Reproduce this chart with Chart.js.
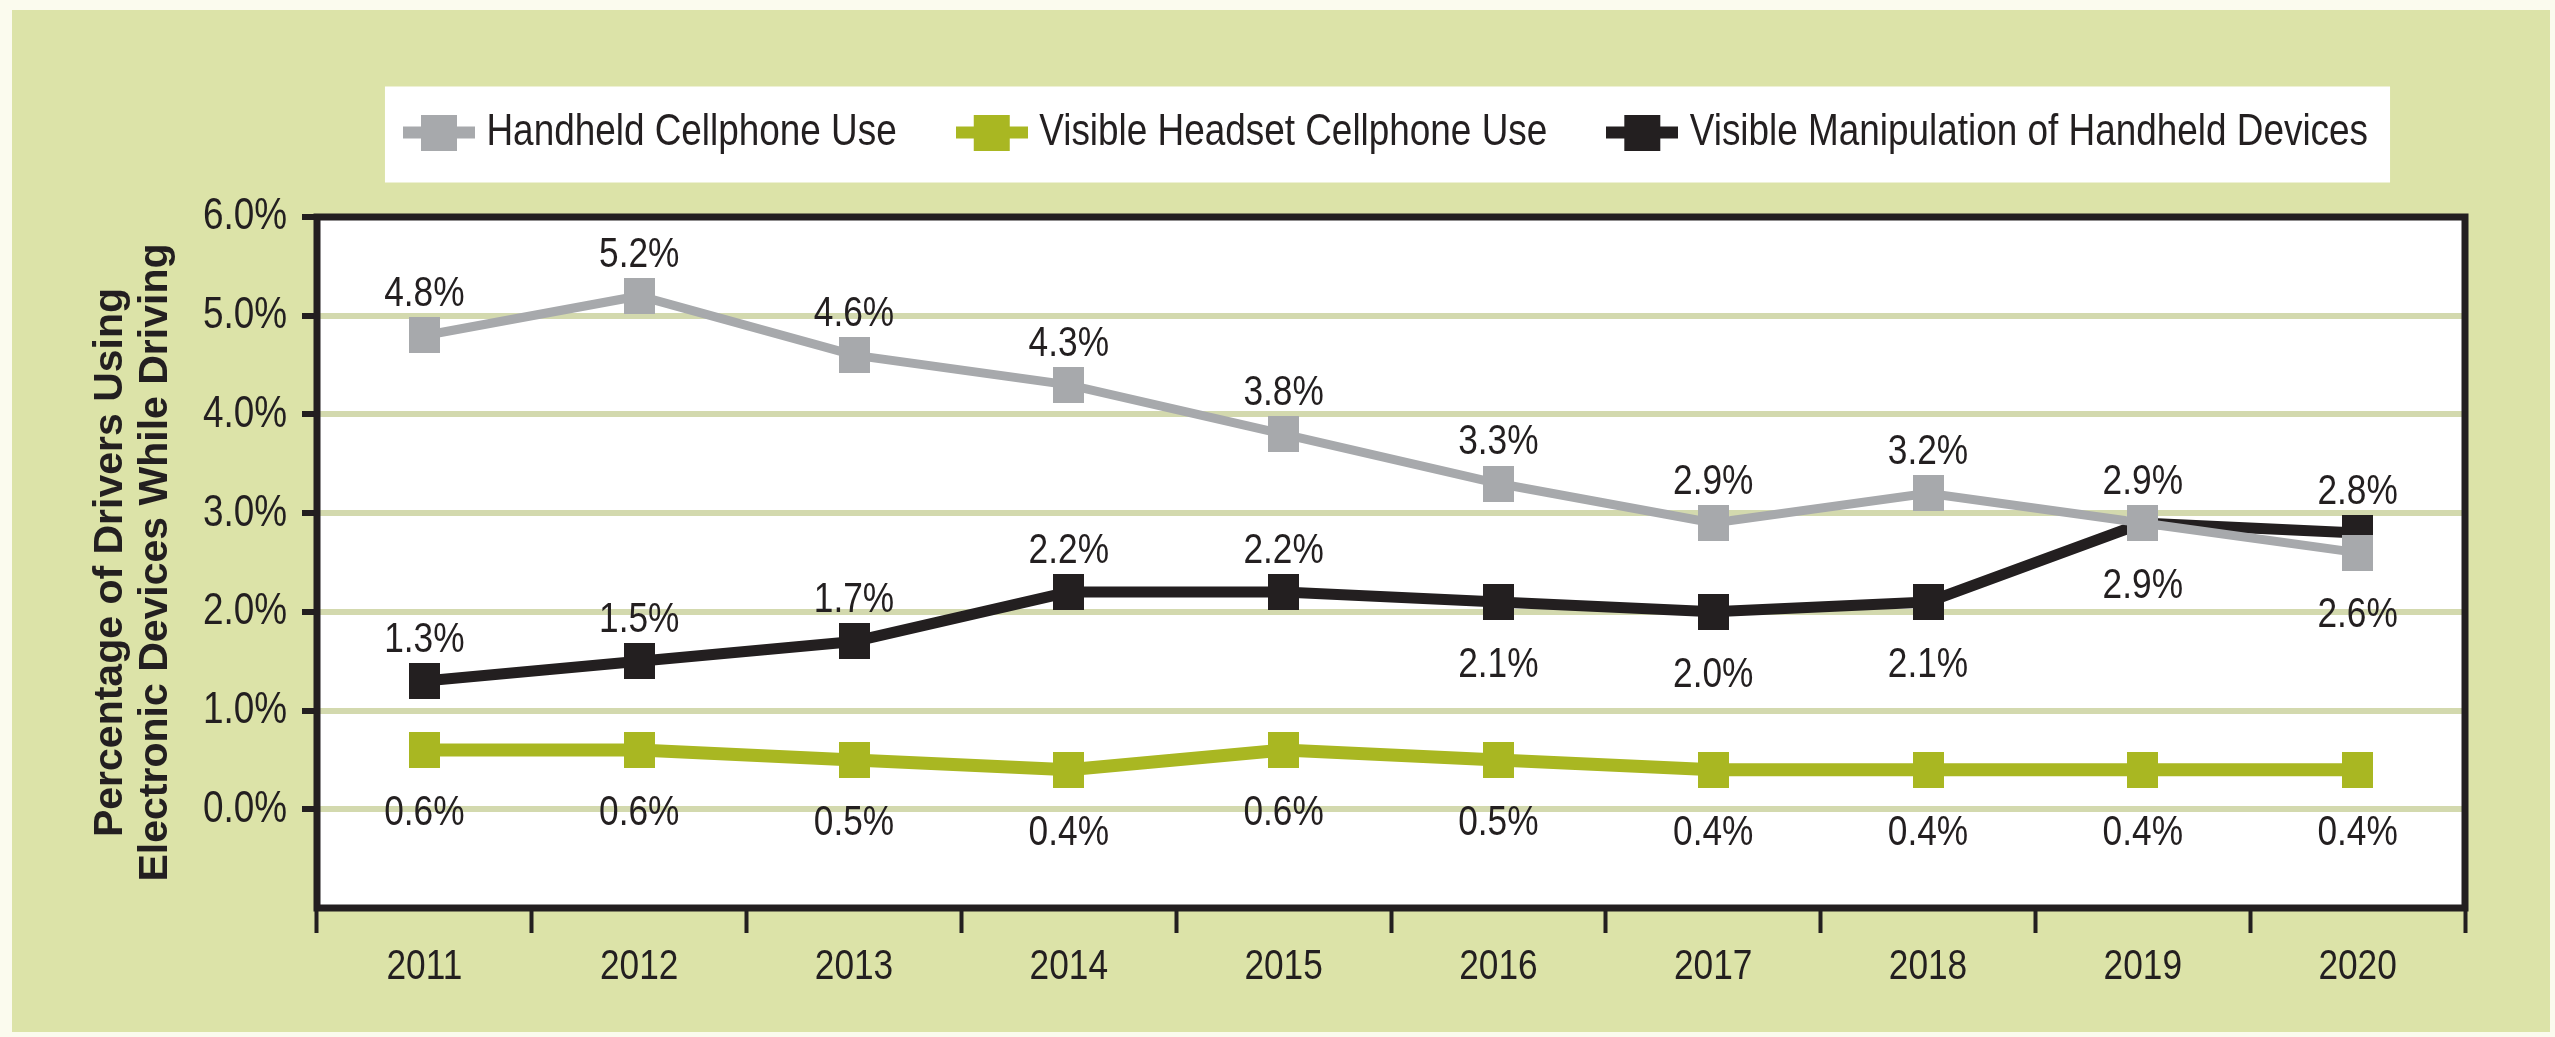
<!DOCTYPE html>
<html>
<head>
<meta charset="utf-8">
<script src="https://cdn.jsdelivr.net/npm/chart.js@4.4.1/dist/chart.umd.min.js"></script>
<style>
  html, body { margin: 0; padding: 0; background: #fbfbee; }
</style>
</head>
<body>
<canvas id="myChart" width="2555" height="1037"></canvas>
<script>
var years = ['2011', '2012', '2013', '2014', '2015', '2016', '2017', '2018', '2019', '2020'];
var seriesNames = ['Handheld Cellphone Use', 'Visible Headset Cellphone Use', 'Visible Manipulation of Handheld Devices'];
var handheld = [4.8, 5.2, 4.6, 4.3, 3.8, 3.3, 2.9, 3.2, 2.9, 2.6];
var headset = [0.6, 0.6, 0.5, 0.4, 0.6, 0.5, 0.4, 0.4, 0.4, 0.4];
var manipulation = [1.3, 1.5, 1.7, 2.2, 2.2, 2.1, 2.0, 2.1, 2.9, 2.8];
var yTickValues = [0, 1, 2, 3, 4, 5, 6];

// where each value label sits relative to its point
var handheldPos = ['above', 'above', 'above', 'above', 'above', 'above', 'above', 'above', 'above', 'below'];
var headsetPos = ['below', 'below', 'below', 'below', 'below', 'below', 'below', 'below', 'below', 'below'];
var manipulationPos = ['above', 'above', 'above', 'above', 'above', 'below', 'below', 'below', 'below', 'above'];

var narrow = "'Liberation Sans Narrow', 'Liberation Sans', sans-serif";
var ink = '#231f20';
var gray = '#a7a9ac';
var green = '#a9b722';

// no narrow face is installed, so squeeze the regular one sideways
var squeeze = 0.82;
var proto = CanvasRenderingContext2D.prototype;
var baseFill = proto.fillText;
var baseMeasure = proto.measureText;
function isNarrow(c) { return c.font.indexOf('Narrow') >= 0; }
proto.fillText = function(text, x, y) {
  if (!isNarrow(this)) return baseFill.apply(this, arguments);
  this.save();
  this.translate(x, y);
  this.scale(squeeze, 1);
  baseFill.call(this, text, 0, 0);
  this.restore();
};
proto.measureText = function(text) {
  var m = baseMeasure.call(this, text);
  if (!isNarrow(this)) return m;
  return {
    width: m.width * squeeze,
    actualBoundingBoxAscent: m.actualBoundingBoxAscent,
    actualBoundingBoxDescent: m.actualBoundingBoxDescent,
    actualBoundingBoxLeft: m.actualBoundingBoxLeft * squeeze,
    actualBoundingBoxRight: m.actualBoundingBoxRight * squeeze
  };
};

function legendIcon(color) {
  var c = document.createElement('canvas');
  c.width = 72;
  c.height = 36;
  var g = c.getContext('2d');
  g.fillStyle = color;
  g.fillRect(0, 12, 72, 12);
  g.fillRect(18, 0, 36, 36);
  return c;
}
function markerIcon(color) {
  var c = document.createElement('canvas');
  c.width = 31;
  c.height = 36;
  var g = c.getContext('2d');
  g.fillStyle = color;
  g.fillRect(0, 0, 31, 36);
  return c;
}
var icons = [legendIcon(gray), legendIcon(green), legendIcon(ink)];

var backdrop = {
  id: 'backdrop',
  beforeInit: function(chart) {
    // leave room between the legend and the plot
    var fit = chart.legend.fit;
    chart.legend.fit = function() {
      fit.call(this);
      this.height += 52;
    };
  },
  beforeDraw: function(chart) {
    var ctx = chart.ctx, a = chart.chartArea;
    ctx.save();
    ctx.fillStyle = '#fbfbee';
    ctx.fillRect(0, 0, chart.width, chart.height);
    ctx.fillStyle = '#dce3a8';
    ctx.fillRect(12, 10, chart.width - 17, chart.height - 15);
    ctx.fillStyle = '#ffffff';
    ctx.fillRect(a.left, a.top, a.right - a.left, a.bottom - a.top);
    var boxes = chart.legend.legendHitBoxes;
    if (boxes && boxes.length) {
      var first = boxes[0], last = boxes[boxes.length - 1];
      var cy = first.top + first.height / 2;
      var x0 = first.left - 29;
      ctx.fillRect(x0, cy - 46, last.left + last.width + 22 - x0, 96);
    }
    ctx.restore();
  },
  afterDatasetsDraw: function(chart) {
    var ctx = chart.ctx;
    ctx.save();
    ctx.font = '43px ' + narrow;
    ctx.fillStyle = ink;
    ctx.textAlign = 'center';
    ctx.textBaseline = 'middle';
    chart.data.datasets.forEach(function(ds, i) {
      chart.getDatasetMeta(i).data.forEach(function(pt, j) {
        var dy = ds.labelPos[j] === 'above' ? -41 : 63;
        ctx.fillText(ds.data[j].toFixed(1) + '%', pt.x, pt.y + dy);
      });
    });
    ctx.restore();
  },
  afterDraw: function(chart) {
    var ctx = chart.ctx, a = chart.chartArea;
    ctx.save();
    ctx.strokeStyle = ink;
    ctx.lineWidth = 7;
    ctx.strokeRect(a.left, a.top, a.right - a.left, a.bottom - a.top);
    ctx.restore();
  }
};

var ctx = document.getElementById('myChart');
var myChart = new Chart(ctx, {
  type: 'line',
  data: {
    labels: years,
    datasets: [{
      label: seriesNames[0],
      data: handheld,
      labelPos: handheldPos,
      borderColor: gray,
      backgroundColor: gray,
      pointStyle: markerIcon(gray),
      borderWidth: 9
    }, {
      label: seriesNames[1],
      data: headset,
      labelPos: headsetPos,
      borderColor: green,
      backgroundColor: green,
      pointStyle: markerIcon(green),
      borderWidth: 13
    }, {
      label: seriesNames[2],
      data: manipulation,
      labelPos: manipulationPos,
      borderColor: ink,
      backgroundColor: ink,
      pointStyle: markerIcon(ink),
      borderWidth: 11
    }]
  },
  options: {
    responsive: false,
    maintainAspectRatio: false,
    animation: false,
    layout: { padding: { left: 12, right: 90, top: 40, bottom: 0 } },
    elements: {
      point: { radius: 20, hoverRadius: 20, borderWidth: 0 },
      line: { tension: 0 }
    },
    plugins: {
      tooltip: { enabled: false },
      legend: {
        position: 'top',
        fullSize: false,
        labels: {
          usePointStyle: true,
          pointStyleWidth: 50,
          padding: 70,
          color: ink,
          font: { family: narrow, size: 45 },
          generateLabels: function(chart) {
            var items = Chart.defaults.plugins.legend.labels.generateLabels(chart);
            items.forEach(function(it, i) { it.pointStyle = icons[i]; });
            return items;
          }
        }
      }
    },
    scales: {
      x: {
        offset: true,
        border: { display: false },
        grid: { offset: true, drawOnChartArea: false, tickLength: 25, tickWidth: 4, tickColor: ink },
        ticks: { color: ink, padding: 8, maxRotation: 0, font: { family: narrow, size: 43 } },
        afterFit: function(scale) { scale.height = 129; }
      },
      y: {
        min: -1,
        max: 6,
        border: { display: false },
        grid: { color: '#d3d9ae', lineWidth: 6, tickLength: 15, tickWidth: 6, tickColor: ink },
        afterBuildTicks: function(scale) {
          scale.ticks = yTickValues.map(function(v) { return { value: v }; });
        },
        ticks: {
          color: ink,
          padding: 15,
          font: { family: narrow, size: 45 },
          callback: function(v) { return v.toFixed(1) + '%'; }
        },
        title: {
          display: true,
          text: ['Percentage of Drivers Using', 'Electronic Devices While Driving'],
          color: ink,
          padding: { top: 76, bottom: 0 },
          font: { family: "'Liberation Sans', Arial, sans-serif", weight: 'bold', size: 41, lineHeight: 1.1 }
        },
        afterFit: function(scale) { scale.width = 305; }
      }
    }
  },
  plugins: [backdrop]
});
</script>
</body>
</html>
